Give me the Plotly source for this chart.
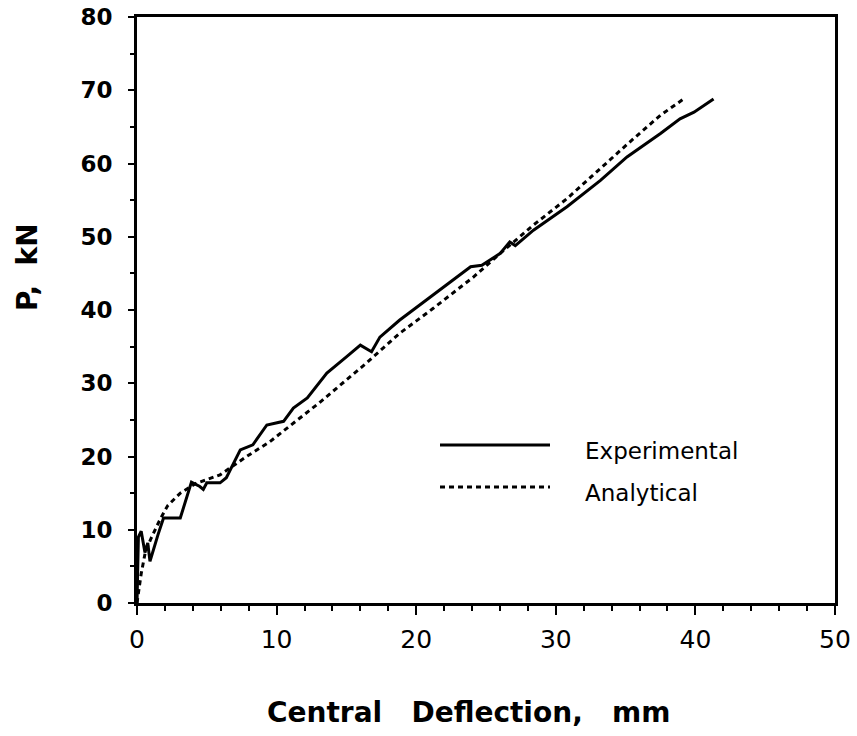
import plotly.graph_objects as go

# Experimental curve (Central deflection mm, P kN)
exp_x = [0, 0.1, 0.3, 0.57, 0.77, 0.93, 1.5, 1.9, 3.1, 3.9, 4.5, 4.75, 5.0, 5.95, 6.4, 7.4, 8.3,
         9.3, 10.5, 11.2, 12.2, 13.6, 15.0, 16.0, 16.8, 17.4, 18.8, 21.2, 22.9, 23.9, 24.7,
         26.0, 26.7, 27.1, 28.4, 30.8, 33.2, 35.1, 37.5, 38.9, 39.9, 41.3]
exp_y = [0, 9.0, 9.8, 6.9, 8.2, 5.7, 9.3, 11.6, 11.6, 16.5, 15.9, 15.5, 16.4, 16.4, 17.1, 20.9, 21.6,
         24.3, 24.8, 26.6, 28.0, 31.4, 33.6, 35.2, 34.3, 36.3, 38.6, 42.0, 44.5, 45.9, 46.1,
         47.7, 49.3, 48.8, 50.9, 54.1, 57.7, 60.9, 64.1, 66.1, 67.0, 68.8]

# Analytical curve
ana_x = [0, 0.3, 0.6, 1.0, 1.65, 2.2, 3.1, 4.2, 5.95, 7.85, 9.5, 11.2, 13.1, 16.4, 18.8, 21.2,
         24.1, 26.0, 28.4, 30.8, 32.7, 35.1, 37.5, 39.3]
ana_y = [0, 4.0, 7.0, 8.8, 11.4, 13.3, 15.0, 16.3, 17.5, 20.0, 22.0, 24.5, 27.4, 32.7, 36.8, 40.2,
         44.5, 47.7, 51.6, 55.2, 58.5, 62.6, 66.6, 69.0]

x_ticks = [0, 10, 20, 30, 40, 50]
y_ticks = [0, 10, 20, 30, 40, 50, 60, 70, 80]
legend_names = ["Experimental", "Analytical"]

FONT = "DejaVu Sans"

fig = go.Figure()
fig.add_trace(go.Scatter(x=exp_x, y=exp_y, mode="lines", name=legend_names[0],
                         line=dict(color="black", width=3), showlegend=False))
fig.add_trace(go.Scatter(x=ana_x, y=ana_y, mode="lines", name=legend_names[1],
                         line=dict(color="black", width=3, dash="5px,4px"), showlegend=False))

L, T, W, H = 137, 17, 698, 586   # plot area in window pixels
FIG_W, FIG_H = 857, 736

def px2paper(px, py):
    return (px - L) / W, (T + H - py) / H

# legend drawn manually (long line samples as in the original)
leg_rows = [(445, "solid"), (487, "5px,4px")]
for (py, dash), name in zip(leg_rows, legend_names):
    x0, y0 = px2paper(440, py)
    x1, _ = px2paper(550, py)
    fig.add_shape(type="line", xref="paper", yref="paper", x0=x0, x1=x1, y0=y0, y1=y0,
                  line=dict(color="black", width=3, dash=dash))
    tx, ty = px2paper(583, py + 6)
    fig.add_annotation(xref="paper", yref="paper", x=tx, y=ty, text=name, showarrow=False,
                       xanchor="left", yanchor="middle",
                       font=dict(family=FONT, size=23, color="black"))

# axis titles
tx, ty = px2paper(468, 712)
fig.add_annotation(xref="paper", yref="paper", x=tx, y=ty,
                   text="Central\u00a0\u00a0\u00a0Deflection,\u00a0\u00a0\u00a0mm", showarrow=False,
                   xanchor="center", yanchor="middle",
                   font=dict(family=FONT, size=28, color="black", weight="bold"))
tx, ty = px2paper(27, 267)
fig.add_annotation(xref="paper", yref="paper", x=tx, y=ty, text="P,\u00a0\u00a0kN", showarrow=False,
                   textangle=-90, xanchor="center", yanchor="middle",
                   font=dict(family=FONT, size=28, color="black", weight="bold"))

fig.update_layout(
    width=FIG_W, height=FIG_H,
    margin=dict(l=L, r=FIG_W - L - W, t=T, b=FIG_H - T - H, autoexpand=False),
    plot_bgcolor="white", paper_bgcolor="white",
    font=dict(family=FONT, color="black"),
    xaxis=dict(range=[0, 50], tickvals=x_ticks, ticks="outside", ticklen=9, tickwidth=2,
               tickcolor="black", showline=True, linecolor="black", linewidth=3, mirror=True,
               showgrid=False, zeroline=False, ticklabelstandoff=3, automargin=False,
               ticklabeloverflow="allow",
               tickfont=dict(family=FONT, size=25, color="black"),
               minor=dict(dtick=2, ticks="outside", ticklen=5, tickwidth=2, tickcolor="black",
                          showgrid=False)),
    yaxis=dict(range=[0, 80], tickvals=y_ticks, ticks="outside", ticklen=6, tickwidth=2,
               tickcolor="black", showline=True, linecolor="black", linewidth=3, mirror=True,
               showgrid=False, zeroline=False, ticklabelstandoff=11, automargin=False,
               ticklabeloverflow="allow",
               tickfont=dict(family=FONT, size=23, color="black", weight="bold"),
               minor=dict(dtick=5, ticks="outside", ticklen=4, tickwidth=2, tickcolor="black",
                          showgrid=False)),
)

fig.write_html("out.html", config={"displayModeBar": False},
               post_script="document.body.style.margin='0';")
